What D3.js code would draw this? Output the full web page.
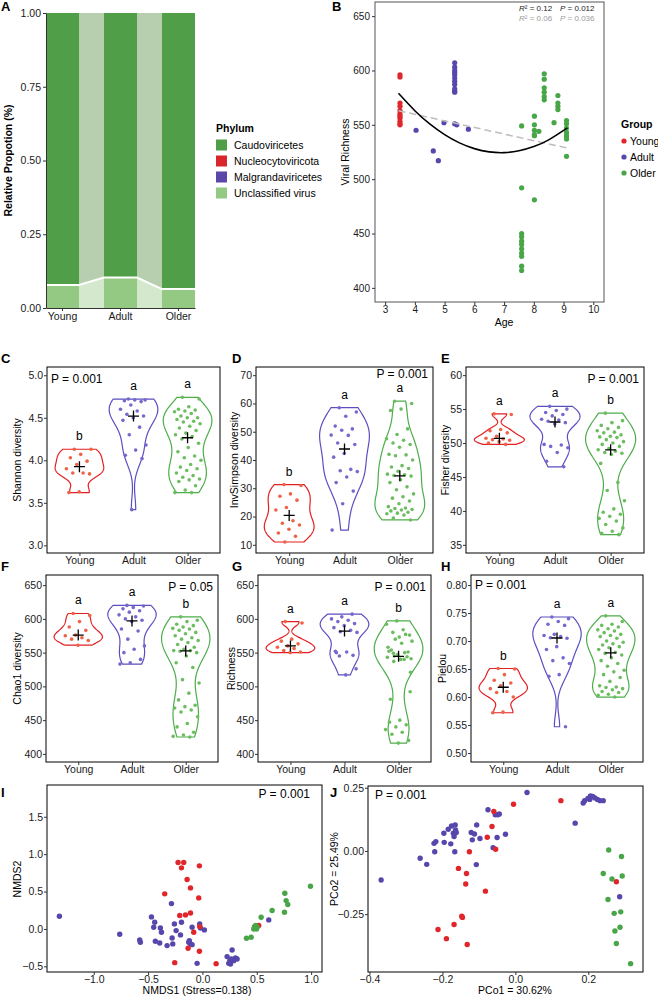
<!DOCTYPE html>
<html>
<head>
<meta charset="utf-8">
<script src="https://cdn.jsdelivr.net/npm/d3@7"></script>
<style>
  body { margin: 0; background: #fff; }
</style>
</head>
<body>
<script>

var groups = ["Young", "Adult", "Older"];

// ---- panel A : relative proportion per phylum
var phyla = ["Caudoviricetes", "Nucleocytoviricota", "Malgrandaviricetes", "Unclassified virus"];
var caudoShare = [0.922, 0.897, 0.936];
var nucleoShare = [0.0, 0.0, 0.0];
var malgrandShare = [0.0, 0.0, 0.0];
var unclassShare = [0.078, 0.103, 0.064];
var propTicks = [0, 0.25, 0.5, 0.75, 1];

// ---- panel B : viral richness vs age
var ageYoung = [3.5, 3.5, 3.5, 3.5, 3.5, 3.5, 3.5, 3.5, 3.5, 3.5, 3.5];
var richYoung = [596, 594, 570, 567, 563, 560, 558, 556, 553, 551, 550];
var ageAdult = [4.04, 4.62, 4.79, 4.98, 5.34, 5.34, 5.34, 5.34, 5.34, 5.34, 5.34, 5.34, 5.34, 5.34, 5.34, 5.34, 5.41, 5.80];
var richAdult = [545, 526, 517, 552, 607, 603, 600, 598, 596, 593, 590, 587, 583, 581, 580, 551, 550, 546];
var ageOlder = [7.59, 7.59, 7.59, 7.59, 7.59, 7.59, 7.59, 7.59, 7.59, 7.59, 7.59,
                8.02, 8.02, 8.02, 8.02, 8.02, 8.02, 8.17,
                8.35, 8.35, 8.35, 8.35, 8.35, 8.35, 8.68,
                8.81, 8.81, 8.81, 8.81,
                9.10, 9.10, 9.10, 9.10, 9.10, 9.10, 9.10];
var richOlder = [549, 492, 450, 447, 443, 440, 436, 432, 429, 420, 416,
                 558, 550, 545, 541, 540, 481, 544,
                 597, 592, 584, 580, 576, 573, 552,
                 577, 570, 567, 564,
                 554, 551, 547, 543, 540, 537, 521];
var fitAge = [3.45, 4, 4.5, 5, 5.5, 6, 6.5, 7, 7.5, 8, 8.5, 9.13];
var fitRich = [579, 563.0, 550.8, 541.0, 533.4, 528.1, 525.1, 524.4, 526.1, 530.0, 536.2, 547.2];
var lineAge = [3.45, 9.13];
var lineRich = [563, 528.6];
var ageTicks = [3, 4, 5, 6, 7, 8, 9, 10];
var richTicks = [400, 450, 500, 550, 600, 650];

// ---- panels C-H : alpha diversity
var shannonYoung = [4.13, 4.13, 4.07, 4.03, 3.99, 3.95, 3.90, 3.85, 3.85, 3.84, 3.63, 3.62];
var shannonAdult = [4.72, 4.71, 4.71, 4.70, 4.69, 4.65, 4.60, 4.58, 4.54, 4.52, 4.50, 4.47, 4.39, 4.30, 4.18, 4.12, 4.06, 4.02, 3.42];
var shannonOlder = [4.74, 4.72, 4.63, 4.60, 4.59, 4.58, 4.57, 4.55, 4.52, 4.50, 4.50, 4.48, 4.46, 4.45, 4.43, 4.40, 4.38, 4.35, 4.32, 4.30, 4.28,
                    4.25, 4.20, 4.15, 4.10, 4.05, 4.03, 4.00, 3.95, 3.92, 3.90, 3.88, 3.85, 3.82, 3.80, 3.78, 3.77, 3.75, 3.70, 3.65, 3.62, 3.62];

var invsimpYoung = [31.3, 31.0, 28.0, 27.2, 25.8, 23.2, 22.3, 18.5, 17.6, 17.0, 15.5, 14.2, 13.0, 11.0];
var invsimpAdult = [58.5, 57.0, 55.5, 52.0, 51.0, 50.5, 48.8, 48.7, 46.0, 45.5, 42.3, 41.0, 36.7, 36.2, 35.9, 34.0, 32.0, 29.0, 24.5, 15.2];
var invsimpOlder = [60.8, 60.0, 58.0, 57.5, 51.0, 49.0, 47.5, 47.0, 46.0, 45.5, 44.5, 42.0, 41.8, 41.5, 40.0, 38.0, 37.5, 37.0, 36.0, 35.0, 34.8, 34.5,
                    34.3, 33.0, 32.0, 30.5, 29.5, 28.0, 27.0, 26.5, 25.5, 24.5, 23.5, 23.0, 22.8, 22.5, 22.3, 22.0, 21.5, 21.2, 21.0, 20.5, 19.5, 18.8];

var fisherYoung = [54.3, 54.2, 52.0, 51.8, 51.5, 51.0, 50.7, 50.6, 50.5, 50.4, 50.2, 50.0, 49.8];
var fisherAdult = [55.4, 55.0, 54.8, 54.5, 54.2, 54.0, 53.5, 53.4, 53.2, 53.0, 52.8, 49.8, 49.7, 49.5, 49.3, 48.6, 47.3, 46.5];
var fisherOlder = [54.4, 53.3, 53.0, 52.6, 52.3, 52.1, 51.8, 51.6, 51.5, 51.2, 51.0, 50.9, 50.8, 50.5, 50.2, 50.0, 49.8, 49.5, 49.2, 49.0,
                   48.8, 48.6, 48.5, 48.3, 47.0, 44.2, 43.0, 41.5, 40.3, 39.8, 39.5, 39.2, 38.9, 38.5, 38.0, 37.5, 37.0, 36.7, 36.5];

var chao1Young = [608, 605, 596, 588, 583, 576, 575, 572, 570, 568, 561];
var chao1Adult = [620, 619, 617, 615, 612, 610, 606, 603, 600, 598, 596, 585, 582, 570, 560, 555, 550, 540, 535, 533];
var chao1Older = [603, 598, 596, 592, 590, 588, 586, 585, 583, 580, 578, 575, 572, 570, 568, 565, 562, 558, 555, 553, 553,
                  552, 550, 545, 535, 528, 510, 505, 490, 480, 472, 470, 468, 465, 462, 455, 445, 440, 432, 428, 426, 425];

var pielouYoung = [0.651, 0.650, 0.640, 0.630, 0.625, 0.620, 0.615, 0.610, 0.608, 0.600, 0.573, 0.572];
var pielouAdult = [0.743, 0.740, 0.735, 0.730, 0.728, 0.712, 0.710, 0.708, 0.706, 0.705, 0.690, 0.685, 0.670, 0.665, 0.660, 0.640, 0.637, 0.547];
var pielouOlder = [0.745, 0.735, 0.730, 0.728, 0.725, 0.722, 0.720, 0.718, 0.715, 0.712, 0.710, 0.708, 0.705, 0.700, 0.698, 0.695, 0.693, 0.690,
                   0.688, 0.685, 0.680, 0.678, 0.675, 0.670, 0.665, 0.660, 0.655, 0.648, 0.645, 0.640, 0.635, 0.628, 0.620, 0.618,
                   0.617, 0.615, 0.613, 0.610, 0.608, 0.605, 0.603, 0.600];

var shannonLetters = ["b", "a", "a"];
var invsimpLetters = ["b", "a", "a"];
var fisherLetters = ["a", "a", "b"];
var chao1Letters = ["a", "a", "b"];
var richLetters = ["a", "a", "b"];
var pielouLetters = ["b", "a", "a"];

// ---- panels I, J : ordination  [axis1, axis2]
var nmdsYoung = [[-0.224, 0.888], [-0.172, 0.888], [-0.193, 0.817], [-0.028, 0.844], [-0.141, 0.661], [-0.110, 0.549],
                 [-0.347, 0.469], [-0.034, 0.415], [-0.209, 0.179], [-0.156, 0.188], [-0.110, 0.214], [-0.025, 0.031],
                 [-0.080, -0.045], [-0.132, -0.259], [-0.028, -0.299], [-0.255, -0.451], [0.126, -0.464], [0.518, 0.045]];
var nmdsAdult = [[-1.316, 0.170], [-0.761, -0.071], [-0.577, -0.147], [-0.571, -0.179], [-0.469, 0.161], [-0.439, 0.089],
                 [-0.448, 0.022], [-0.433, -0.165], [-0.393, -0.188], [-0.387, 0.013], [-0.377, -0.045], [-0.325, -0.223],
                 [-0.285, 0.339], [-0.279, -0.121], [-0.273, -0.200], [-0.258, 0.067], [-0.242, -0.022], [-0.202, -0.080],
                 [-0.193, 0.089], [-0.126, -0.179], [-0.110, -0.200], [-0.120, -0.156], [-0.095, -0.210], [-0.095, 0.022],
                 [-0.025, 0.067], [-0.018, 0.013], [0.018, -0.013], [-0.049, -0.460], [0.273, -0.281], [0.227, -0.370],
                 [0.252, -0.424], [0.258, -0.469], [0.288, -0.424], [0.304, -0.388], [0.319, -0.402], [0.267, -0.402],
                 [0.242, -0.460], [0.610, 0.121]];
var nmdsOlder = [[0.994, 0.571], [0.758, 0.478], [0.770, 0.379], [0.785, 0.326], [0.755, 0.223], [0.641, 0.246],
                 [0.540, 0.156], [0.490, 0.045], [0.503, 0.022], [0.472, 0.000], [0.497, 0.000], [0.479, 0.031],
                 [0.448, -0.112], [0.405, -0.125]];
var pcoaYoung = [[-0.059, 0.156], [-0.005, 0.185], [0.125, 0.199], [-0.064, 0.097], [-0.077, 0.054], [-0.054, 0.007],
                 [-0.126, -0.003], [-0.156, -0.069], [-0.134, -0.089], [-0.136, -0.131], [-0.082, -0.159], [-0.147, -0.258],
                 [-0.145, -0.263], [-0.168, -0.291], [-0.212, -0.311], [-0.189, -0.347], [-0.132, -0.370], [0.277, -0.122]];
var pcoaAdult = [[-0.368, -0.115], [-0.261, -0.029], [-0.243, -0.053], [-0.221, -0.003], [-0.223, 0.030], [-0.218, 0.037],
                 [-0.195, 0.034], [-0.196, 0.070], [-0.184, 0.086], [-0.175, 0.099], [-0.177, 0.028], [-0.166, -0.003],
                 [-0.170, 0.070], [-0.164, 0.083], [-0.162, 0.073], [-0.168, 0.057], [-0.165, 0.103], [-0.121, 0.073],
                 [-0.118, 0.044], [-0.112, 0.067], [-0.106, 0.103], [-0.107, -0.054], [-0.097, 0.049], [-0.075, 0.163],
                 [-0.061, 0.013], [-0.055, 0.143], [-0.048, 0.143], [-0.044, 0.146], [-0.050, 0.053], [-0.027, 0.066],
                 [0.032, 0.231], [0.164, 0.110], [0.186, 0.190], [0.190, 0.199], [0.199, 0.208], [0.206, 0.218],
                 [0.212, 0.216], [0.218, 0.210], [0.225, 0.204], [0.232, 0.199], [0.241, 0.199], [0.204, 0.204],
                 [0.286, -0.181]];
var pcoaOlder = [[0.256, 0.004], [0.291, -0.022], [0.241, -0.089], [0.265, -0.111], [0.293, -0.099], [0.254, -0.192],
                 [0.271, -0.247], [0.289, -0.241], [0.273, -0.317], [0.287, -0.302], [0.277, -0.366], [0.316, -0.446]];

// ---------------------------------------------------------------
var groupColors = ["#e0262b", "#5647ad", "#49a648"];
var violinColors = ["#e41f22", "#5b4fc0", "#4cad49"];
var dotColors = ["#ee6247", "#7668cc", "#6cbd60"];
var phylumColors = ["#519e48", "#d9262d", "#5a47a8", "#93c983"];
var flowColors = {"Caudoviricetes": "#b7cfae", "Unclassified virus": "#d3e8cc", "Nucleocytoviricota": "#eeb0b0", "Malgrandaviricetes": "#bdb5dd"};

var font = "'Liberation Sans', Arial, Helvetica, sans-serif";
var svg = d3.select("body").append("svg")
    .attr("width", 658)
    .attr("height", 999)
    .style("font-family", font);

function styleAxis(g, keepDomain, size) {
    g.attr("font-family", null).attr("font-size", null);
    g.selectAll("text").attr("font-size", size || 10.5).attr("fill", "#1a1a1a");
    g.selectAll("line").attr("stroke", "#333");
    if (keepDomain) g.select(".domain").attr("stroke", "#333");
    else g.select(".domain").remove();
}

function panelLabel(t, x, y) {
    svg.append("text").attr("x", x).attr("y", y)
        .attr("font-size", 13).attr("font-weight", "bold").text(t);
}

function frame(b, col) {
    svg.append("rect")
        .attr("x", b.l).attr("y", b.t)
        .attr("width", b.r - b.l).attr("height", b.b - b.t)
        .attr("fill", "none").attr("stroke", col || "#000").attr("stroke-width", 1);
}

function yTitle(t, x, y, bold) {
    svg.append("text")
        .attr("transform", "translate(" + x + "," + y + ") rotate(-90)")
        .attr("text-anchor", "middle")
        .attr("font-size", 10.5)
        .attr("font-weight", bold ? "bold" : null)
        .text(t);
}

// =============== A =================
(function() {
    var b = {l: 46, r: 195, t: 13, b: 308};
    var x = d3.scaleBand().domain(groups).range([b.l, b.r]).paddingInner(0.43).paddingOuter(0);
    var y = d3.scaleLinear().domain([0, 1]).range([b.b, b.t]);
    var bw = x.bandwidth();

    var rows = groups.map(function(g, i) {
        return {
            group: g,
            "Unclassified virus": unclassShare[i],
            "Malgrandaviricetes": malgrandShare[i],
            "Nucleocytoviricota": nucleoShare[i],
            "Caudoviricetes": caudoShare[i]
        };
    });
    var keys = ["Unclassified virus", "Malgrandaviricetes", "Nucleocytoviricota", "Caudoviricetes"];
    var layers = d3.stack().keys(keys)(rows);

    // flows between the bars
    layers.forEach(function(layer) {
        for (var i = 0; i < groups.length - 1; i++) {
            var a = layer[i], c = layer[i + 1];
            var x0 = x(groups[i]) + bw, x1 = x(groups[i + 1]);
            svg.append("path")
                .attr("d", "M" + x0 + "," + y(a[1]) + "L" + x1 + "," + y(c[1]) +
                           "L" + x1 + "," + y(c[0]) + "L" + x0 + "," + y(a[0]) + "Z")
                .attr("fill", flowColors[layer.key]);
        }
    });

    // bars
    layers.forEach(function(layer) {
        var col = phylumColors[phyla.indexOf(layer.key)];
        svg.append("g").selectAll("rect")
            .data(layer)
            .enter().append("rect")
            .attr("x", function(d) { return x(d.data.group); })
            .attr("y", function(d) { return y(d[1]); })
            .attr("width", bw)
            .attr("height", function(d) { return y(d[0]) - y(d[1]); })
            .attr("fill", col);
    });

    // white stratum boundary
    var top = layers[0];
    var pts = [];
    top.forEach(function(d) {
        pts.push([x(d.data.group), y(d[1])]);
        pts.push([x(d.data.group) + bw, y(d[1])]);
    });
    svg.append("path")
        .attr("d", d3.line()(pts))
        .attr("fill", "none").attr("stroke", "#fff").attr("stroke-width", 2);

    var gy = svg.append("g").attr("transform", "translate(" + b.l + ",0)")
        .call(d3.axisLeft(y).tickValues(propTicks).tickFormat(d3.format(".2f")).tickSize(3).tickSizeOuter(0).tickPadding(2));
    styleAxis(gy, true);
    var gx = svg.append("g").attr("transform", "translate(0," + b.b + ")")
        .call(d3.axisBottom(x).tickSize(3).tickSizeOuter(0).tickPadding(2));
    styleAxis(gx, true);

    yTitle("Relative Propotion (%)", 12, (b.t + b.b) / 2, true);
    panelLabel("A", 1, 11);

    // legend
    var lg = svg.append("g").attr("transform", "translate(216,0)");
    lg.append("text").attr("x", 0).attr("y", 132).attr("font-size", 10.5).attr("font-weight", "bold").text("Phylum");
    phyla.forEach(function(p, i) {
        var cy = 145 + i * 16;
        lg.append("rect").attr("x", 0).attr("y", cy - 5.5).attr("width", 11).attr("height", 11).attr("fill", phylumColors[i]);
        lg.append("text").attr("x", 18).attr("y", cy + 3.8).attr("font-size", 10.5).text(p);
    });
})();

// =============== B =================
(function() {
    var b = {l: 375, r: 604, t: 2, b: 302};
    var x = d3.scaleLinear().domain([2.66, 10.36]).range([b.l, b.r]);
    var y = d3.scaleLinear().domain([387, 663]).range([b.b, b.t]);

    var sets = [[ageYoung, richYoung], [ageAdult, richAdult], [ageOlder, richOlder]];
    sets.forEach(function(s, gi) {
        svg.append("g").selectAll("circle")
            .data(s[0])
            .enter().append("circle")
            .attr("cx", function(d) { return x(d); })
            .attr("cy", function(d, i) { return y(s[1][i]); })
            .attr("r", 2.6)
            .attr("fill", groupColors[gi]);
    });

    svg.append("path")
        .attr("d", d3.line().x(function(d) { return x(d); }).y(function(d, i) { return y(lineRich[i]); })(lineAge))
        .attr("fill", "none").attr("stroke", "#bdbdbd").attr("stroke-width", 1.5).attr("stroke-dasharray", "7,4");
    svg.append("path")
        .attr("d", d3.line().curve(d3.curveNatural).x(function(d) { return x(d); }).y(function(d, i) { return y(fitRich[i]); })(fitAge))
        .attr("fill", "none").attr("stroke", "#000").attr("stroke-width", 1.6);

    frame(b, "#555");
    var gy = svg.append("g").attr("transform", "translate(" + b.l + ",0)")
        .call(d3.axisLeft(y).tickValues(richTicks).tickSize(3).tickPadding(2));
    styleAxis(gy, false, 10);
    var gx = svg.append("g").attr("transform", "translate(0," + b.b + ")")
        .call(d3.axisBottom(x).tickValues(ageTicks).tickSize(3).tickPadding(1));
    styleAxis(gx, false, 10);

    yTitle("Viral Richness", 349, (b.t + b.b) / 2);
    svg.append("text").attr("x", 504).attr("y", 326).attr("text-anchor", "middle").attr("font-size", 10.5).text("Age");

    var st = svg.append("g").attr("font-size", 8);
    var r1 = st.append("text").attr("x", 519).attr("y", 11).attr("fill", "#222");
    r1.append("tspan").attr("font-style", "italic").text("R");
    r1.append("tspan").text("² = 0.12");
    var p1 = st.append("text").attr("x", 560).attr("y", 11).attr("fill", "#222");
    p1.append("tspan").attr("font-style", "italic").text("P");
    p1.append("tspan").text(" = 0.012");
    var r2 = st.append("text").attr("x", 519).attr("y", 21).attr("fill", "#9a9a9a");
    r2.append("tspan").attr("font-style", "italic").text("R");
    r2.append("tspan").text("² = 0.06");
    var p2 = st.append("text").attr("x", 560).attr("y", 21).attr("fill", "#9a9a9a");
    p2.append("tspan").attr("font-style", "italic").text("P");
    p2.append("tspan").text(" = 0.036");

    panelLabel("B", 332, 11);

    var lg = svg.append("g");
    lg.append("text").attr("x", 621).attr("y", 128).attr("font-size", 10.5).attr("font-weight", "bold").text("Group");
    groups.forEach(function(g, i) {
        var cy = 141 + i * 16;
        lg.append("circle").attr("cx", 624).attr("cy", cy).attr("r", 2.6).attr("fill", groupColors[i]);
        lg.append("text").attr("x", 630).attr("y", cy + 3.8).attr("font-size", 10.5).text(g);
    });
})();

// =============== violins =================
function bwNrd0(v) {
    var s = v.slice().sort(d3.ascending);
    var sd = d3.deviation(s);
    var iqr = d3.quantile(s, 0.75) - d3.quantile(s, 0.25);
    var lo = Math.min(sd, iqr / 1.34);
    if (!(lo > 0)) lo = sd || Math.abs(s[0]) || 1;
    return 0.9 * lo * Math.pow(s.length, -0.2);
}

function kde(v) {
    var bw = bwNrd0(v), lo = d3.min(v), hi = d3.max(v);
    return d3.range(0, 121).map(function(i) {
        var t = lo + (hi - lo) * i / 120;
        var d = d3.mean(v, function(u) { var z = (t - u) / bw; return Math.exp(-0.5 * z * z); });
        return [t, d];
    });
}

function jitter(i) {
    return ((i * 0.6180339887 + 0.31) % 1) * 2 - 1;
}

function violinPanel(cfg) {
    var b = cfg.b;
    var x = d3.scalePoint().domain(groups).range([b.l, b.r]).padding(0.6);
    var y = d3.scaleLinear().domain(cfg.domain).range([b.b, b.t]);
    var half = 0.45 * x.step();

    cfg.data.forEach(function(vals, gi) {
        var cx = x(groups[gi]);
        var dens = kde(vals);
        var maxD = d3.max(dens, function(d) { return d[1]; });
        var area = d3.area()
            .y(function(d) { return y(d[0]); })
            .x0(function(d) { return cx - d[1] / maxD * half; })
            .x1(function(d) { return cx + d[1] / maxD * half; });
        svg.append("path")
            .attr("d", area(dens))
            .attr("fill", "none")
            .attr("stroke", violinColors[gi])
            .attr("stroke-width", 1.2);

        svg.append("g").selectAll("circle")
            .data(vals)
            .enter().append("circle")
            .attr("cx", function(d, i) { return cx + jitter(i) * 0.25 * x.step(); })
            .attr("cy", function(d) { return y(d); })
            .attr("r", 1.8)
            .attr("fill", dotColors[gi]);

        var med = d3.median(vals);
        svg.append("path")
            .attr("transform", "translate(" + cx + "," + y(med) + ")")
            .attr("d", "M-5.5,0H5.5M0,-5.5V5.5")
            .attr("stroke", "#000").attr("stroke-width", 1.3);

        svg.append("text")
            .attr("x", cx).attr("y", y(d3.max(vals)) - 9)
            .attr("text-anchor", "middle").attr("font-size", 12)
            .text(cfg.letters[gi]);
    });

    frame(b);
    var gy = svg.append("g").attr("transform", "translate(" + b.l + ",0)")
        .call(d3.axisLeft(y).tickValues(cfg.ticks).tickFormat(d3.format(cfg.fmt)).tickSize(3).tickPadding(1));
    styleAxis(gy);
    var gx = svg.append("g").attr("transform", "translate(0," + b.b + ")")
        .call(d3.axisBottom(x).tickSize(3).tickPadding(1));
    styleAxis(gx);

    var left = cfg.pSide === "left";
    svg.append("text")
        .attr("x", left ? b.l + 4 : b.r - 5)
        .attr("y", b.t + (cfg.pDy || 16))
        .attr("text-anchor", left ? "start" : "end")
        .attr("font-size", 12)
        .text(cfg.pText);

    yTitle(cfg.title, cfg.titleX, (b.t + b.b) / 2);
    panelLabel(cfg.label, cfg.labelX, b.t - 4);
}

violinPanel({b: {l: 47, r: 220, t: 367, b: 553}, domain: [2.91, 5.097], ticks: [3, 3.5, 4, 4.5, 5], fmt: ".1f",
    data: [shannonYoung, shannonAdult, shannonOlder], letters: shannonLetters, pText: "P = 0.001", pSide: "left",
    title: "Shannon diversity", titleX: 21, label: "C", labelX: 1});
violinPanel({b: {l: 256, r: 433, t: 367, b: 553}, domain: [7.1, 72.9], ticks: [10, 20, 30, 40, 50, 60, 70], fmt: "d",
    data: [invsimpYoung, invsimpAdult, invsimpOlder], letters: invsimpLetters, pText: "P = 0.001", pSide: "right", pDy: 11,
    title: "InvSimpson diversity", titleX: 238, label: "D", labelX: 232});
violinPanel({b: {l: 466, r: 644, t: 367, b: 553}, domain: [33.8, 61.2], ticks: [35, 40, 45, 50, 55, 60], fmt: "d",
    data: [fisherYoung, fisherAdult, fisherOlder], letters: fisherLetters, pText: "P = 0.001", pSide: "right",
    title: "Fisher diversity", titleX: 449, label: "E", labelX: 441});
violinPanel({b: {l: 46, r: 218, t: 575, b: 762}, domain: [388, 665], ticks: [400, 450, 500, 550, 600, 650], fmt: "d",
    data: [chao1Young, chao1Adult, chao1Older], letters: chao1Letters, pText: "P = 0.05", pSide: "right",
    title: "Chao1 diversity", titleX: 21, label: "F", labelX: 1});
violinPanel({b: {l: 258, r: 431, t: 575, b: 762}, domain: [388, 665], ticks: [400, 450, 500, 550, 600, 650], fmt: "d",
    data: [richYoung, richAdult, richOlder], letters: richLetters, pText: "P = 0.001", pSide: "right",
    title: "Richness", titleX: 235, label: "G", labelX: 232});
violinPanel({b: {l: 471, r: 643, t: 575, b: 762}, domain: [0.484, 0.818], ticks: [0.5, 0.55, 0.6, 0.65, 0.7, 0.75, 0.8], fmt: ".2f",
    data: [pielouYoung, pielouAdult, pielouOlder], letters: pielouLetters, pText: "P = 0.001", pSide: "left", pDy: 14,
    title: "Pielou", titleX: 446, label: "H", labelX: 441});

// =============== ordination =================
function ordPanel(cfg) {
    var b = cfg.b;
    var x = d3.scaleLinear().domain(cfg.xd).range([b.l, b.r]);
    var y = d3.scaleLinear().domain(cfg.yd).range([b.b, b.t]);
    var order = [1, 0, 2];
    order.forEach(function(gi) {
        svg.append("g").selectAll("circle")
            .data(cfg.data[gi])
            .enter().append("circle")
            .attr("cx", function(d) { return x(d[0]); })
            .attr("cy", function(d) { return y(d[1]); })
            .attr("r", 2.7)
            .attr("fill", groupColors[gi]);
    });
    frame(b);
    var gy = svg.append("g").attr("transform", "translate(" + b.l + ",0)")
        .call(d3.axisLeft(y).tickValues(cfg.yt).tickFormat(d3.format(cfg.yf)).tickSize(3).tickPadding(1));
    styleAxis(gy);
    var gx = svg.append("g").attr("transform", "translate(0," + b.b + ")")
        .call(d3.axisBottom(x).tickValues(cfg.xt).tickFormat(d3.format(cfg.xf)).tickSize(3).tickPadding(1));
    styleAxis(gx);

    var left = cfg.pSide === "left";
    svg.append("text")
        .attr("x", left ? b.l + 7 : b.r - 12)
        .attr("y", b.t + 13)
        .attr("text-anchor", left ? "start" : "end")
        .attr("font-size", 12)
        .text("P = 0.001");
    svg.append("text").attr("x", cfg.xTitleX).attr("y", 994).attr("text-anchor", "middle")
        .attr("font-size", 10.5).text(cfg.xTitle);
    yTitle(cfg.yTitle, cfg.yTitleX, cfg.yTitleY);
    panelLabel(cfg.label, cfg.labelX, 797);
}

ordPanel({b: {l: 47, r: 322, t: 785, b: 972}, xd: [-1.43, 1.10], yd: [-0.576, 1.925],
    xt: [-1, -0.5, 0, 0.5, 1], yt: [-0.5, 0, 0.5, 1, 1.5], xf: ".1f", yf: ".1f",
    data: [nmdsYoung, nmdsAdult, nmdsOlder], pSide: "right",
    xTitle: "NMDS1 (Stress=0.138)", xTitleX: 197, yTitle: "NMDS2", yTitleX: 21, yTitleY: 879,
    label: "I", labelX: 1});
ordPanel({b: {l: 368, r: 643, t: 786, b: 972}, xd: [-0.404, 0.35], yd: [-0.479, 0.257],
    xt: [-0.4, -0.2, 0, 0.2], yt: [-0.25, 0, 0.25], xf: ".1f", yf: ".2f",
    data: [pcoaYoung, pcoaAdult, pcoaOlder], pSide: "left",
    xTitle: "PCo1 = 30.62%", xTitleX: 515, yTitle: "PCo2 = 25.49%", yTitleX: 338, yTitleY: 869,
    label: "J", labelX: 330});

</script>
</body>
</html>
